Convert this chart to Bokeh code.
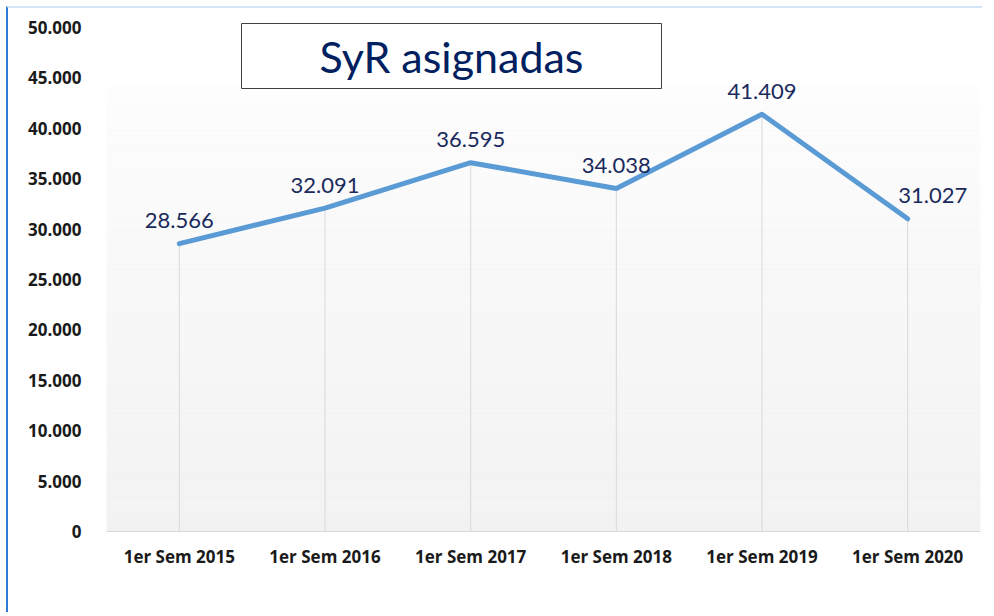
import numpy as np
from bokeh.plotting import figure
from bokeh.models import Range1d, FixedTicker, BoxAnnotation, Label, ColumnDataSource
from bokeh.embed import file_html
from bokeh.resources import INLINE
from bokeh.core.properties import value

# ---- data ----
categories = ["1er Sem 2015", "1er Sem 2016", "1er Sem 2017",
              "1er Sem 2018", "1er Sem 2019", "1er Sem 2020"]
values = [28566, 32091, 36595, 34038, 41409, 31027]
y_ticks = [0, 5000, 10000, 15000, 20000, 25000, 30000, 35000, 40000, 45000, 50000]
title_text = "SyR asignadas"


def fmt(v):
    return f"{v:,}".replace(",", ".")


x = [i + 0.5 for i in range(len(categories))]
label_dx = [0, 0, 0, 0, 0, 25]

p = figure(width=976, height=606, output_backend="svg", toolbar_location=None,
           x_range=Range1d(0, len(categories)), y_range=Range1d(0, 50900),
           min_border_left=98, min_border_right=4, min_border_top=10, min_border_bottom=83)
p.styles = {"margin-left": "6px", "margin-top": "6px",
            "border-left": "2px solid #2e7bd6", "border-top": "2px solid #d3e6f7"}
p.outline_line_color = None
p.xgrid.visible = False
p.ygrid.visible = False
p.background_fill_color = "white"
p.border_fill_color = "white"

# gradient background (style)
n = 90
grad_top = 44250
edges = np.linspace(0, grad_top, n + 1)
c0 = np.array([242, 242, 242])
c1 = np.array([253, 253, 253])
cols = []
for i in range(n):
    t = (i + 0.5) / n
    c = (c0 + (c1 - c0) * t).round().astype(int)
    cols.append("#%02x%02x%02x" % tuple(c))
p.quad(left=0, right=len(categories), bottom=edges[:-1], top=edges[1:],
       fill_color=cols, line_color=cols, line_width=0.6)

# drop lines
p.segment(x0=x, y0=[0] * len(x), x1=x, y1=values, line_color="#d9d9d9", line_width=1)

# main line
p.line(x, values, line_color="#5b9bd5", line_width=5, line_join="round", line_cap="round")

# data labels
src = ColumnDataSource(dict(x=x, y=values, t=[fmt(v) for v in values], dx=label_dx))
p.text(x="x", y="y", text="t", source=src, x_offset="dx", y_offset=-23,
       text_align="center", text_baseline="middle",
       text_font=value("Lato"), text_font_size="22px", text_color="#1a2a5c")

# axes
p.xaxis.ticker = FixedTicker(ticks=x)
p.xaxis.major_label_overrides = {xi: c for xi, c in zip(x, categories)}
p.yaxis.ticker = FixedTicker(ticks=y_ticks)
p.yaxis.major_label_overrides = {t: fmt(t) for t in y_ticks}
for ax in (p.xaxis, p.yaxis):
    ax.major_tick_line_color = None
    ax.minor_tick_line_color = None
    ax.major_label_text_font = "Open Sans"
    ax.major_label_text_font_style = "bold"
    ax.major_label_text_font_size = "17px"
    ax.major_label_text_color = "#1a1a1a"
p.yaxis.axis_line_color = None
p.xaxis.axis_line_color = "#d9d9d9"
p.yaxis.major_label_standoff = 19
p.xaxis.major_label_standoff = 7

# title box
box = BoxAnnotation(left=135, right=555, top=508, bottom=443,
                    left_units="screen", right_units="screen",
                    top_units="screen", bottom_units="screen",
                    fill_color="white", fill_alpha=1.0,
                    line_color="#404040", line_width=1, line_alpha=1.0)
p.add_layout(box)
p.add_layout(Label(x=345, y=475, x_units="screen", y_units="screen", text=title_text,
                   text_align="center", text_baseline="middle", text_font="Lato",
                   text_font_size="43px", text_color="#002060"))

open("out.html", "w").write(file_html(p, INLINE))
